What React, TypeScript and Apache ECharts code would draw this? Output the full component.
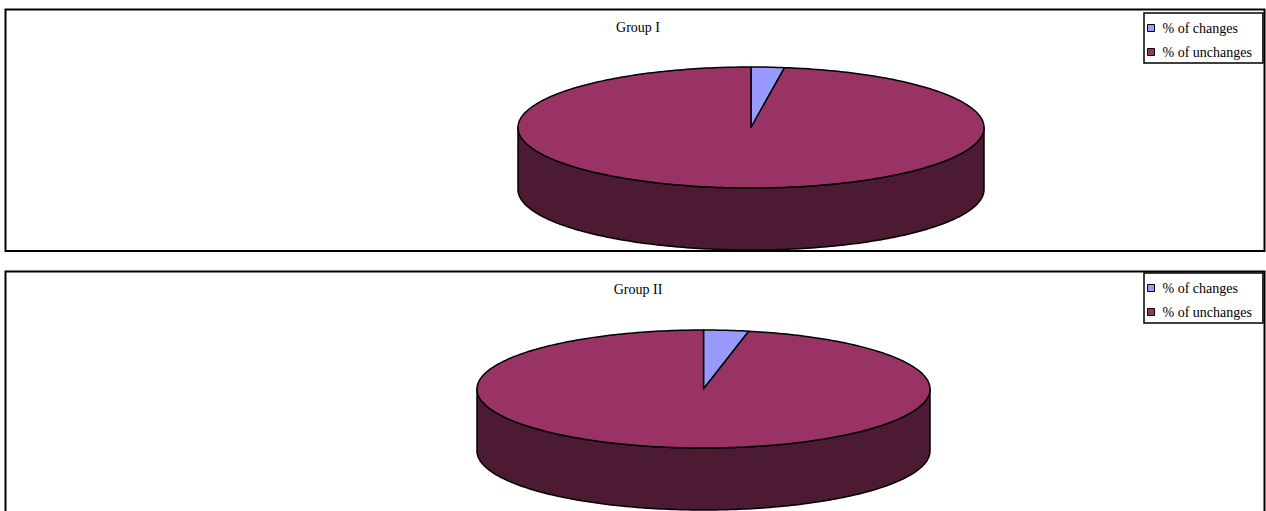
import React, { useEffect, useRef } from "react";
import * as echarts from "echarts";

// ---- data ----
const categories = ["% of changes", "% of unchanges"];
const groupTitles = ["Group I", "Group II"];
const groupIValues = [2.3, 97.7];
const groupIIValues = [3.2, 96.8];

// ---- styles ----
const topColors = ["#9999FF", "#993366"];
const sideColors = ["#4D4D80", "#4C1A33"];
const FONT = "'Liberation Serif', 'Times New Roman', serif";

// ---- layout ----
const layouts = [
  { cx: 751, cy: 127.5, rx: 233, ry: 60.5, depth: 62, boxY: 9.5, boxH: 241.5, titleTop: 20, legendTop: 13 },
  { cx: 703.5, cy: 389, rx: 226.5, ry: 59, depth: 62, boxY: 271.5, boxH: 250, titleTop: 282, legendTop: 273 },
];
const groupValues = [groupIValues, groupIIValues];

function makeRender(geo: any, total: number, sideColor: string, topColor: string) {
  return (params: any, api: any) => {
    const start = api.value(0) as number;
    const end = api.value(1) as number;
    const a0 = (start / total) * Math.PI * 2;
    const a1 = (end / total) * Math.PI * 2;
    const pt = (t: number, dy = 0) => [geo.cx + geo.rx * Math.sin(t), geo.cy - geo.ry * Math.cos(t) + dy];
    const children: any[] = [];
    const w0 = Math.max(a0, Math.PI / 2);
    const w1 = Math.min(a1, Math.PI * 1.5);
    if (w1 > w0) {
      const n = Math.max(2, Math.ceil((w1 - w0) / (Math.PI / 180)));
      const pts: number[][] = [];
      for (let i = 0; i <= n; i++) pts.push(pt(w0 + ((w1 - w0) * i) / n));
      for (let i = n; i >= 0; i--) pts.push(pt(w0 + ((w1 - w0) * i) / n, geo.depth));
      children.push({
        type: "polygon",
        shape: { points: pts },
        style: { fill: sideColor, stroke: "#000", lineWidth: 1.5, lineJoin: "round" },
      });
    }
    const n2 = Math.max(2, Math.ceil((a1 - a0) / (Math.PI / 180)));
    const top: number[][] = [[geo.cx, geo.cy]];
    for (let i = 0; i <= n2; i++) top.push(pt(a0 + ((a1 - a0) * i) / n2));
    children.push({
      type: "polygon",
      shape: { points: top },
      style: { fill: topColor, stroke: "#000", lineWidth: 1.5, lineJoin: "round" },
    });
    return { type: "group", children };
  };
}

export default function App() {
  const ref = useRef<HTMLDivElement>(null);
  useEffect(() => {
    if (!ref.current) return;
    const chart = echarts.init(ref.current, undefined, { renderer: "svg" });
    const series: any[] = [];
    groupValues.forEach((vals, g) => {
      const total = vals.reduce((s, v) => s + v, 0);
      let cum = 0;
      vals.forEach((v, i) => {
        const start = cum;
        cum += v;
        series.push({
          type: "custom",
          name: categories[i],
          coordinateSystem: "none",
          silent: true,
          itemStyle: { color: topColors[i] },
          data: [[start, cum]],
          renderItem: makeRender(layouts[g], total, sideColors[i], topColors[i]),
        });
      });
    });
    const option: any = {
      animation: false,
      title: layouts.map((l, g) => ({
        text: groupTitles[g],
        left: 638,
        top: l.titleTop,
        textAlign: "center",
        padding: 0,
        textStyle: { fontFamily: FONT, fontSize: 14, fontWeight: "normal", color: "#000" },
      })),
      legend: layouts.map((l) => ({
        data: categories,
        orient: "vertical",
        left: 1144,
        top: l.legendTop,
        icon: "rect",
        itemWidth: 7,
        itemHeight: 7,
        itemGap: 10,
        padding: [8, 11, 4, 3],
        borderColor: "#000",
        borderWidth: 1.5,
        borderRadius: 0,
        selectedMode: false,
        itemStyle: { borderColor: "#000", borderWidth: 1 },
        textStyle: { fontFamily: FONT, fontSize: 14, color: "#000", padding: [0, 0, 0, 3] },
      })),
      graphic: layouts.map((l) => ({
        type: "rect",
        shape: { x: 5.5, y: l.boxY, width: 1259, height: l.boxH },
        style: { fill: "none", stroke: "#000", lineWidth: 2 },
        z: -1,
      })),
      series,
    };
    chart.setOption(option);
    return () => chart.dispose();
  }, []);
  return (
    <div
      ref={ref}
      style={{ position: "absolute", left: 0, top: 0, width: 1266, height: 511, background: "#fff" }}
    />
  );
}
